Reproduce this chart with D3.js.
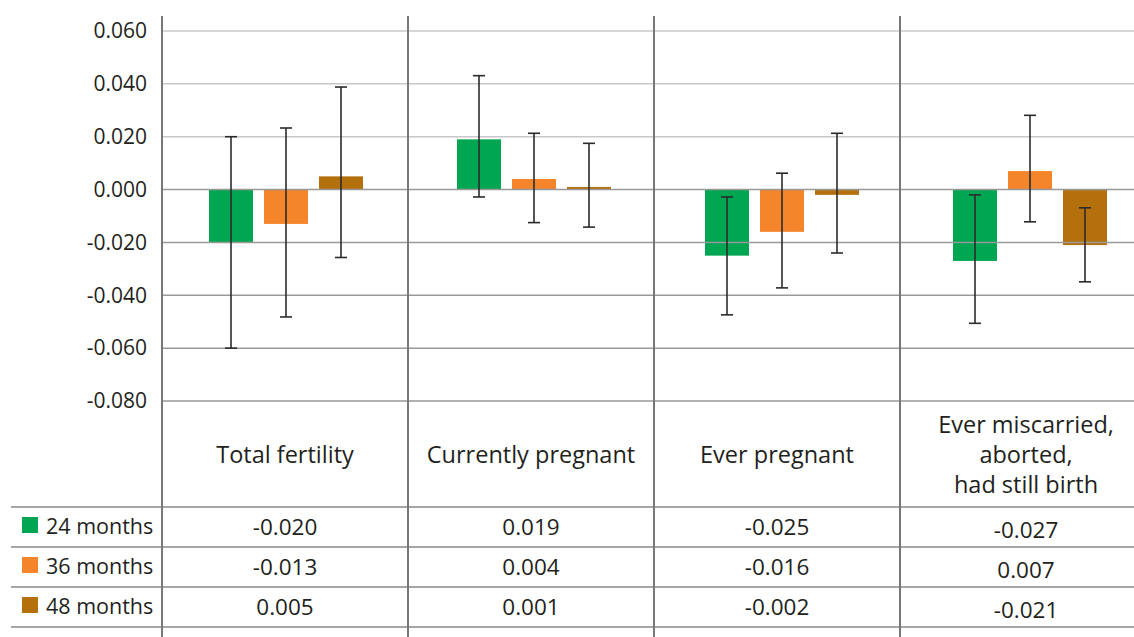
<!DOCTYPE html>
<html>
<head>
<meta charset="utf-8">
<script src="https://cdn.jsdelivr.net/npm/d3@7"></script>
<style>
  html, body { margin: 0; padding: 0; background: #fff; }
  svg { display: block; font-family: "Open Sans", sans-serif; }
</style>
</head>
<body>
<div id="chart"></div>
<script>
// categories, series and values
const categories = ["Total fertility", "Currently pregnant", "Ever pregnant", "Ever miscarried"];
const categoryLabels = [
  ["Total fertility"],
  ["Currently pregnant"],
  ["Ever pregnant"],
  ["Ever miscarried,", "aborted,", "had still birth"]
];
const seriesNames = ["24 months", "36 months", "48 months"];
const seriesColors = ["#00a651", "#f5852a", "#b5700e"];

const values24 = [-0.020, 0.019, -0.025, -0.027];
const values36 = [-0.013, 0.004, -0.016, 0.007];
const values48 = [0.005, 0.001, -0.002, -0.021];

const lower24 = [-0.060, -0.0028, -0.0474, -0.0506];
const upper24 = [0.020, 0.0431, -0.0028, -0.0020];
const lower36 = [-0.0482, -0.0125, -0.0372, -0.0122];
const upper36 = [0.0233, 0.0213, 0.0062, 0.0281];
const lower48 = [-0.0257, -0.0142, -0.0240, -0.0349];
const upper48 = [0.0388, 0.0175, 0.0213, -0.0069];

const yTicks = [0.06, 0.04, 0.02, 0, -0.02, -0.04, -0.06, -0.08];

const allValues = [values24, values36, values48];
const allLower = [lower24, lower36, lower48];
const allUpper = [upper24, upper36, upper48];

function drawChart() {
  const width = 1134, height = 637;
  const locale = d3.formatLocale({ decimal: ".", thousands: ",", grouping: [3], currency: ["", ""], minus: "-" });
  const fmt = locale.format(".3f");

  const svg = d3.select('#chart').append('svg')
    .attr('width', width)
    .attr('height', height);

  const y = d3.scaleLinear().domain([-0.08, 0.06]).range([401, 31]);
  // table columns
  const xCol = d3.scaleBand().domain(categories).range([162, 1146]);
  // bar groups sit on a slightly wider step
  const xBar = d3.scaleBand().domain(categories).range([162, 1154]);
  const xSub = d3.scaleBand().domain(seriesNames).range([-77, 77]).paddingInner(0.2);

  const rowTop = [507, 547, 587];
  const rowLines = [507, 547, 587, 627];

  // bars
  const bars = [];
  categories.forEach((c, i) => {
    seriesNames.forEach((s, j) => {
      bars.push({ c, s, j, v: allValues[j][i], lo: allLower[j][i], hi: allUpper[j][i] });
    });
  });

  svg.append('g').selectAll('rect')
    .data(bars)
    .enter().append('rect')
    .attr('x', d => xBar(d.c) + xBar.bandwidth() / 2 + xSub(d.s))
    .attr('width', xSub.bandwidth())
    .attr('y', d => y(Math.max(0, d.v)))
    .attr('height', d => Math.abs(y(d.v) - y(0)))
    .attr('fill', d => seriesColors[d.j]);

  // gridlines (drawn over bars, as in the original)
  svg.append('g').selectAll('line')
    .data(yTicks)
    .enter().append('line')
    .attr('x1', 162).attr('x2', width)
    .attr('y1', d => y(d)).attr('y2', d => y(d))
    .attr('stroke', d => d > 0 ? '#c8c8c8' : '#999')
    .attr('stroke-width', 1.5);

  // y axis labels
  const yAxis = d3.axisLeft(y).tickValues(yTicks).tickFormat(fmt).tickSize(0).tickPadding(15);
  const ag = svg.append('g').attr('transform', 'translate(162,0)').call(yAxis);
  ag.select('.domain').remove();
  ag.selectAll('text').attr('font-size', 21).attr('fill', '#231f20')
    .attr('font-family', '"Open Sans", sans-serif');

  // error bars
  const eb = svg.append('g').attr('stroke', '#2b2b2b').attr('stroke-width', 1.6);
  bars.forEach(d => {
    const cx = xBar(d.c) + xBar.bandwidth() / 2 + xSub(d.s) + xSub.bandwidth() / 2;
    eb.append('line').attr('x1', cx).attr('x2', cx).attr('y1', y(d.hi)).attr('y2', y(d.lo));
    eb.append('line').attr('x1', cx - 6).attr('x2', cx + 6).attr('y1', y(d.hi)).attr('y2', y(d.hi));
    eb.append('line').attr('x1', cx - 6).attr('x2', cx + 6).attr('y1', y(d.lo)).attr('y2', y(d.lo));
  });

  // table horizontal lines
  svg.append('g').selectAll('line')
    .data(rowLines)
    .enter().append('line')
    .attr('x1', 11).attr('x2', width)
    .attr('y1', d => d).attr('y2', d => d)
    .attr('stroke', '#888').attr('stroke-width', 1.5);

  // vertical column lines
  svg.append('g').selectAll('line')
    .data(categories)
    .enter().append('line')
    .attr('x1', d => xCol(d)).attr('x2', d => xCol(d))
    .attr('y1', 16).attr('y2', height)
    .attr('stroke', '#777').attr('stroke-width', 2);

  // category labels
  const lineH = 30;
  categories.forEach((c, i) => {
    const lines = categoryLabels[i];
    const cx = xCol(c) + xCol.bandwidth() / 2 + (i === 3 ? 3 : 0);
    const base = 463 - (lines.length - 1) * lineH / 2;
    svg.append('text')
      .attr('x', cx)
      .attr('text-anchor', 'middle')
      .attr('font-size', 23.5)
      .attr('fill', '#231f20')
      .selectAll('tspan')
      .data(lines)
      .enter().append('tspan')
      .attr('x', cx)
      .attr('y', (d, k) => base + k * lineH)
      .text(d => d);
  });

  // legend rows
  seriesNames.forEach((s, j) => {
    svg.append('rect')
      .attr('x', 22).attr('y', rowTop[j] + 10)
      .attr('width', 16).attr('height', 16)
      .attr('fill', seriesColors[j]);
    svg.append('text')
      .attr('x', 46).attr('y', rowTop[j] + 27)
      .attr('font-size', 21.5)
      .attr('fill', '#231f20')
      .text(s);
    categories.forEach((c, i) => {
      svg.append('text')
        .attr('x', xCol(c) + xCol.bandwidth() / 2 + (i === 3 ? 3 : 0))
        .attr('y', rowTop[j] + 28 + (i === 3 ? 3 : 0))
        .attr('text-anchor', 'middle')
        .attr('font-size', 22.5)
        .attr('fill', '#231f20')
        .text(fmt(allValues[j][i]));
    });
  });
}

window.addEventListener('DOMContentLoaded', drawChart);
</script>
</body>
</html>
